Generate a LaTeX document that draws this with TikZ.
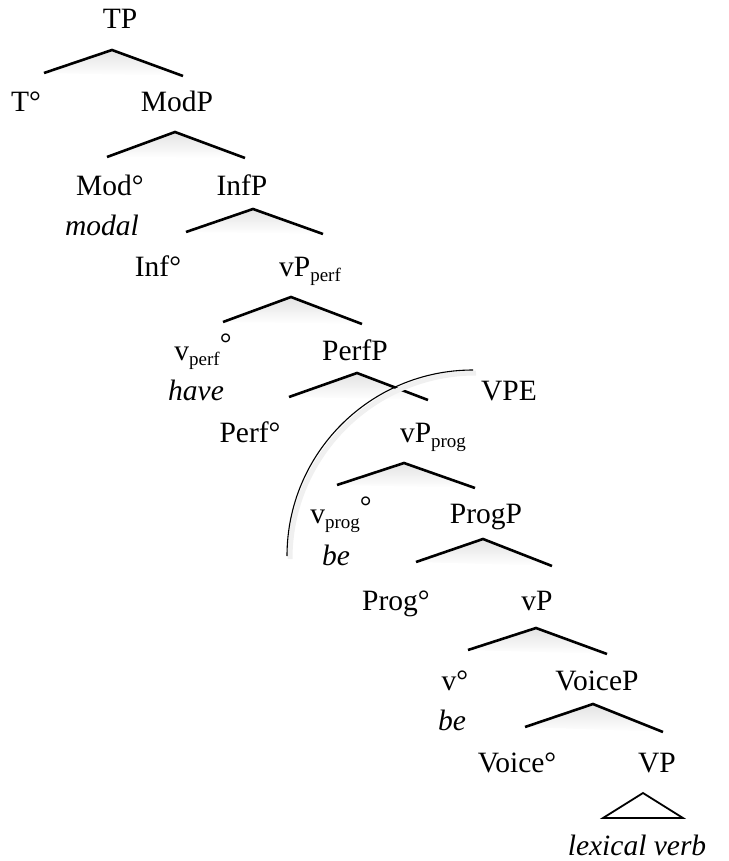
\documentclass[tikz,border=0pt]{standalone}
\usepackage{fontspec}
\setmainfont{Liberation Serif}
\newcommand{\subx}[1]{\raisebox{-0.2em}{\fontsize{19}{19}\selectfont #1}}
\newcommand{\supdeg}{\raisebox{0.22em}{°}}
\begin{document}
\begin{tikzpicture}[x=1pt,y=-1pt,
  lbl/.style={anchor=base,inner sep=0pt,font=\fontsize{29.5}{32}\selectfont},
  chev/.style={line width=2.6pt,line join=miter},
  shad/.style={top color=black!11,bottom color=white,draw=none}]
\useasboundingbox (0,0) rectangle (728,861);
% labels
\node[lbl] (tp) at (120,29) {TP};
\node[lbl] (t0) at (26,112) {T°};
\node[lbl] (modp) at (177,112) {ModP};
\node[lbl] (mod0) at (110,195) {Mod°};
\node[lbl] (modal) at (102,235) {\itshape modal};
\node[lbl] (infp) at (242,195) {InfP};
\node[lbl] (inf0) at (158,276) {Inf°};
\node[lbl] (vpperf) at (310,276) {vP\subx{perf}};
\node[lbl] (vperf0) at (203,360) {v\subx{perf}\supdeg};
\node[lbl] (perfp) at (355,360) {PerfP};
\node[lbl] (have) at (196,400) {\itshape have};
\node[lbl] (vpe) at (509,400) {VPE};
\node[lbl] (perf0) at (250,442) {Perf°};
\node[lbl] (vpprog) at (433,442) {vP\subx{prog}};
\node[lbl] (vprog0) at (341,523) {v\subx{prog}\supdeg};
\node[lbl] (progp) at (486,523) {ProgP};
\node[lbl] (be1) at (336,565) {\itshape be};
\node[lbl] (prog0) at (396,610) {Prog°};
\node[lbl] (vp) at (537,610) {vP};
\node[lbl] (v0) at (455,690) {v°};
\node[lbl] (voicep) at (597,690) {VoiceP};
\node[lbl] (be2) at (452,730) {\itshape be};
\node[lbl] (voice0) at (517,772) {Voice°};
\node[lbl] (vpnode) at (657,772) {VP};
\node[lbl] (lex) at (637,855) {\itshape lexical verb};
% chevrons
\foreach \l/\a/\r in {{44,73}/{112,50}/{183,76},{107,157}/{175,132}/{245,158},{186,232}/{253,209}/{323,234},{223,322}/{291,297}/{362,324},{289,397}/{357,373}/{428,400},{337,485}/{404,463}/{475,488},{416,562}/{483,539}/{552,566},{468,650}/{536,628}/{607,654},{525,727}/{593,704}/{663,732}}{
  \shade[shad] (\l) -- (\a) -- (\r) -- cycle;
  \draw[chev] (\l) -- (\a) -- (\r);
}
% triangle
\draw[line width=1.8pt,line join=miter] (643,793) -- (603,818) -- (683,818) -- cycle;
% VPE arc
\coordinate (arcstart) at (473,370);
\draw[black!6,line width=5pt] ([shift={(3,3)}]arcstart) arc[start angle=90,end angle=180,radius=186pt];
\draw[line width=1.1pt] (arcstart) arc[start angle=90,end angle=180,radius=186pt];
\end{tikzpicture}
\end{document}
